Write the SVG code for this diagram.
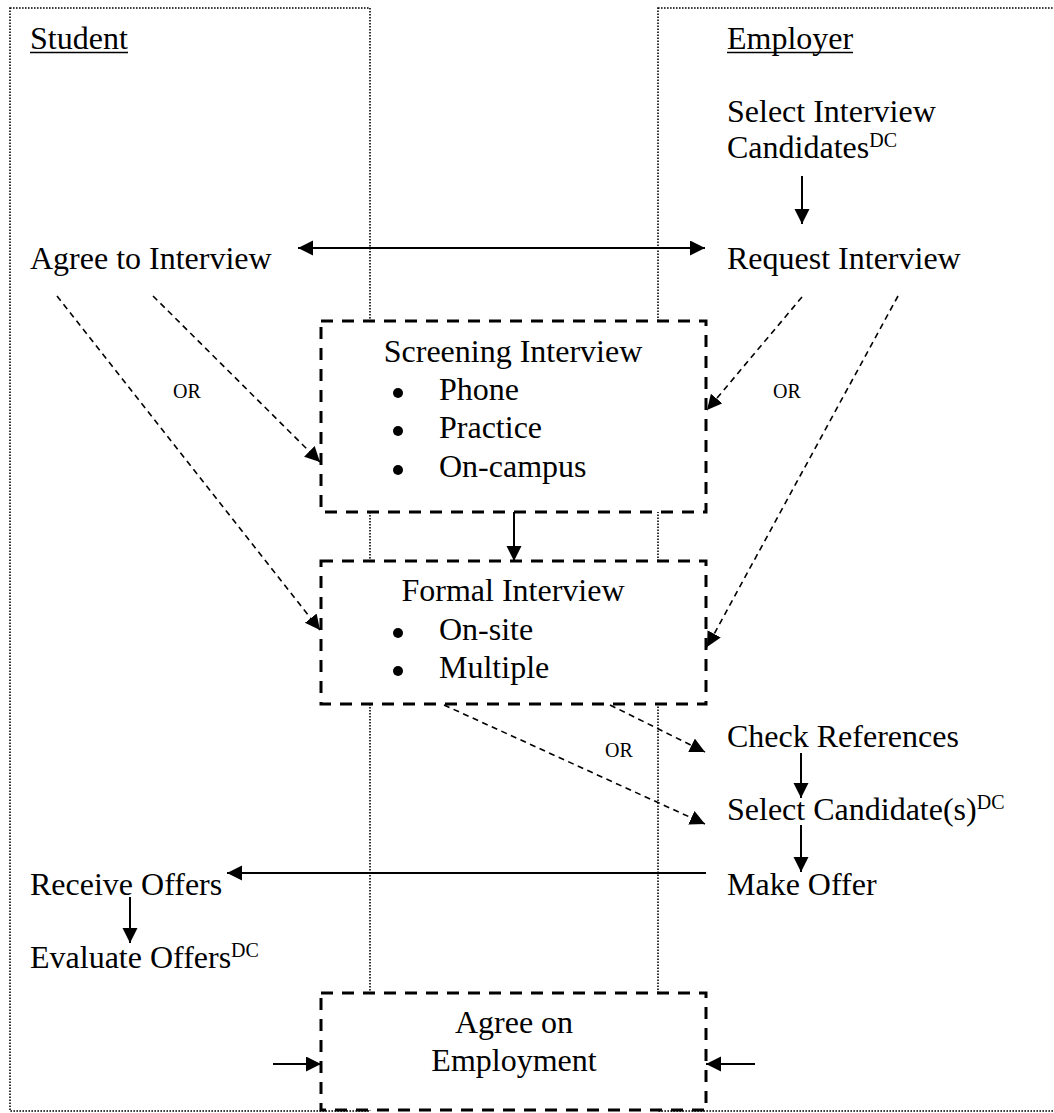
<svg xmlns="http://www.w3.org/2000/svg" width="1054" height="1113" viewBox="0 0 1054 1113">
  <style>
    text { font-family: "Liberation Serif", "Times New Roman", serif; fill: #000; }
    .t { font-size: 32px; }
    .c { text-anchor: middle; }
    .sup { font-size: 20px; }
    .or { font-size: 20px; }
    .dot { fill: #000; }
    .lane { fill: none; stroke: #000; stroke-width: 1.6; stroke-dasharray: 1.6 1.4; }
    .box { fill: #fff; stroke: #000; stroke-width: 3; stroke-dasharray: 12 9; }
    .solid { fill: none; stroke: #000; stroke-width: 2; }
    .dash { fill: none; stroke: #000; stroke-width: 1.6; stroke-dasharray: 6 4.5; }
    .ul { stroke: #000; stroke-width: 1.6; }
  </style>
  <defs>
    <marker id="head" markerUnits="userSpaceOnUse" markerWidth="16" markerHeight="16" refX="15" refY="7.5" orient="auto-start-reverse">
      <path d="M0,0 L15,7.5 L0,15 z" fill="#000"/>
    </marker>
  </defs>

  <rect width="1054" height="1113" fill="#fff"/>

  <!-- swim lanes -->
  <g id="lanes">
    <rect class="lane" x="10" y="8" width="360" height="1103"/>
    <rect class="lane" x="658" y="8" width="420" height="1103"/>
    <text class="t" x="30" y="49">Student</text>
    <line class="ul" x1="30" y1="52.5" x2="128" y2="52.5"/>
    <text class="t" x="727" y="49">Employer</text>
    <line class="ul" x1="727" y1="52.5" x2="853" y2="52.5"/>
  </g>

  <!-- shared steps -->
  <g id="screening">
    <rect class="box" x="321" y="321" width="385" height="191"/>
    <text class="t c" x="513" y="362">Screening Interview</text>
    <circle class="dot" cx="398" cy="393" r="5"/>
    <text class="t" x="439" y="400">Phone</text>
    <circle class="dot" cx="398" cy="431" r="5"/>
    <text class="t" x="439" y="438">Practice</text>
    <circle class="dot" cx="398" cy="470" r="5"/>
    <text class="t" x="439" y="477">On-campus</text>
  </g>
  <g id="formal">
    <rect class="box" x="321" y="561" width="385" height="143"/>
    <text class="t c" x="513" y="601">Formal Interview</text>
    <circle class="dot" cx="398" cy="633" r="5"/>
    <text class="t" x="439" y="640">On-site</text>
    <circle class="dot" cx="398" cy="671" r="5"/>
    <text class="t" x="439" y="678">Multiple</text>
  </g>
  <g id="agreement">
    <rect class="box" x="321" y="993" width="385" height="117"/>
    <text class="t c" x="514" y="1033">Agree on</text>
    <text class="t c" x="514" y="1071">Employment</text>
  </g>

  <!-- student steps -->
  <g id="agree-interview"><text class="t" x="30" y="269">Agree to Interview</text></g>
  <g id="receive-offers"><text class="t" x="30" y="895">Receive Offers</text></g>
  <g id="evaluate-offers"><text class="t" x="30" y="968">Evaluate Offers<tspan class="sup" dy="-11">DC</tspan></text></g>

  <!-- employer steps -->
  <g id="select-interview-candidates">
    <text class="t" x="727" y="122">Select Interview</text>
    <text class="t" x="727" y="158">Candidates<tspan class="sup" dy="-11">DC</tspan></text>
  </g>
  <g id="request-interview"><text class="t" x="727" y="269">Request Interview</text></g>
  <g id="check-references"><text class="t" x="727" y="747">Check References</text></g>
  <g id="select-candidates"><text class="t" x="727" y="820">Select Candidate(s)<tspan class="sup" dy="-11">DC</tspan></text></g>
  <g id="make-offer"><text class="t" x="727" y="895">Make Offer</text></g>

  <!-- connectors -->
  <g id="connectors">
    <line class="solid" x1="298" y1="248" x2="705" y2="248" marker-start="url(#head)" marker-end="url(#head)"/>
    <line class="solid" x1="802" y1="176" x2="802" y2="224" marker-end="url(#head)"/>
    <line class="solid" x1="514" y1="512" x2="514" y2="561" marker-end="url(#head)"/>
    <line class="solid" x1="801" y1="753" x2="801" y2="798" marker-end="url(#head)"/>
    <line class="solid" x1="801" y1="825" x2="801" y2="872" marker-end="url(#head)"/>
    <line class="solid" x1="706" y1="873" x2="227" y2="873" marker-end="url(#head)"/>
    <line class="solid" x1="130" y1="897" x2="130" y2="943" marker-end="url(#head)"/>
    <line class="solid" x1="273" y1="1064" x2="321" y2="1064" marker-end="url(#head)"/>
    <line class="solid" x1="755" y1="1064" x2="706" y2="1064" marker-end="url(#head)"/>

    <line class="dash" x1="57" y1="296" x2="320" y2="630" marker-end="url(#head)"/>
    <line class="dash" x1="153" y1="296" x2="320" y2="462" marker-end="url(#head)"/>
    <line class="dash" x1="802" y1="297" x2="707" y2="410" marker-end="url(#head)"/>
    <line class="dash" x1="898" y1="296" x2="707" y2="647" marker-end="url(#head)"/>
    <line class="dash" x1="444" y1="705" x2="705" y2="824" marker-end="url(#head)"/>
    <line class="dash" x1="610" y1="705" x2="705" y2="752" marker-end="url(#head)"/>

    <text class="or" x="173" y="398">OR</text>
    <text class="or" x="773" y="398">OR</text>
    <text class="or" x="605" y="757">OR</text>
  </g>
</svg>
